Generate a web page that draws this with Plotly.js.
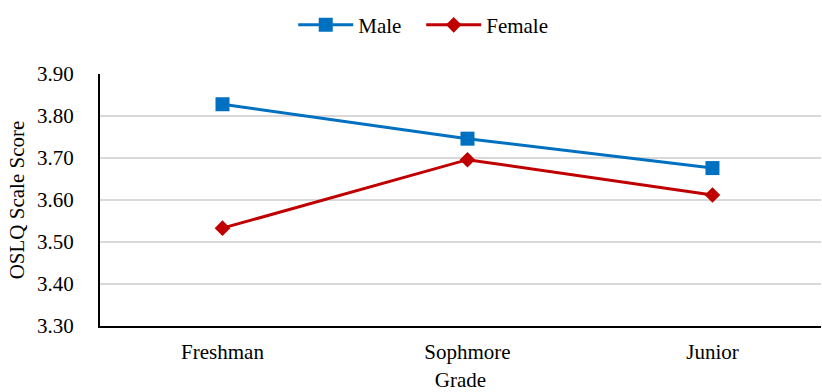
<!DOCTYPE html>
<html>
<head>
<meta charset="utf-8">
<script src="https://cdn.plot.ly/plotly-3.0.1.min.js"></script>
<style>html,body{margin:0;padding:0;background:#fff;}#chart{width:822px;height:392px;}</style>
</head>
<body>
<div id="chart"></div>
<script>
const grades = ["Freshman", "Sophmore", "Junior"];
const maleScores = [3.828, 3.746, 3.676];
const femaleScores = [3.533, 3.696, 3.612];
const yTickVals = [3.30, 3.40, 3.50, 3.60, 3.70, 3.80, 3.90];
const yTickText = ["3.30", "3.40", "3.50", "3.60", "3.70", "3.80", "3.90"];

const fontFam = "'Liberation Serif', 'Times New Roman', serif";

const traces = [
  {
    x: grades, y: maleScores, name: "Male", type: "scatter", mode: "lines+markers",
    line: {color: "#0070C0", width: 3},
    marker: {symbol: "square", size: 14, color: "#0070C0"},
    legend: "legend"
  },
  {
    x: grades, y: femaleScores, name: "Female", type: "scatter", mode: "lines+markers",
    line: {color: "#C00000", width: 3},
    marker: {symbol: "diamond", size: 12, color: "#C00000"},
    legend: "legend2"
  }
];

const legendBase = {
  orientation: "h", xref: "paper", xanchor: "left",
  y: 0.988, yref: "container", yanchor: "top",
  font: {family: fontFam, size: 21, color: "#000"},
  itemwidth: 55, bgcolor: "rgba(0,0,0,0)"
};

const layout = {
  width: 822, height: 392,
  margin: {l: 100, r: 1, t: 74, b: 66},
  paper_bgcolor: "#fff", plot_bgcolor: "#fff",
  font: {family: fontFam, size: 21, color: "#000"},
  showlegend: true,
  legend: Object.assign({}, legendBase, {x: 0.268}),
  legend2: Object.assign({}, legendBase, {x: 0.4455}),
  xaxis: {
    type: "category", range: [-0.5, 2.443],
    showline: true, linecolor: "#000", linewidth: 2,
    ticks: "", showgrid: false, zeroline: false,
    tickfont: {family: fontFam, size: 21, color: "#000"},
    ticklabelstandoff: 6,
    title: {text: "Grade", font: {family: fontFam, size: 21, color: "#000"}, standoff: 18}
  },
  yaxis: {
    range: [3.30, 3.90], tickvals: yTickVals, ticktext: yTickText,
    showline: true, linecolor: "#000", linewidth: 2,
    ticks: "", showgrid: true, gridcolor: "#D9D9D9", gridwidth: 1.5, zeroline: false,
    tickfont: {family: fontFam, size: 21, color: "#000"},
    ticklabelstandoff: 20,
    title: {text: "OSLQ Scale Score", font: {family: fontFam, size: 21, color: "#000"}, standoff: 7}
  }
};

Plotly.newPlot("chart", traces, layout, {displayModeBar: false, staticPlot: true});
</script>
</body>
</html>
